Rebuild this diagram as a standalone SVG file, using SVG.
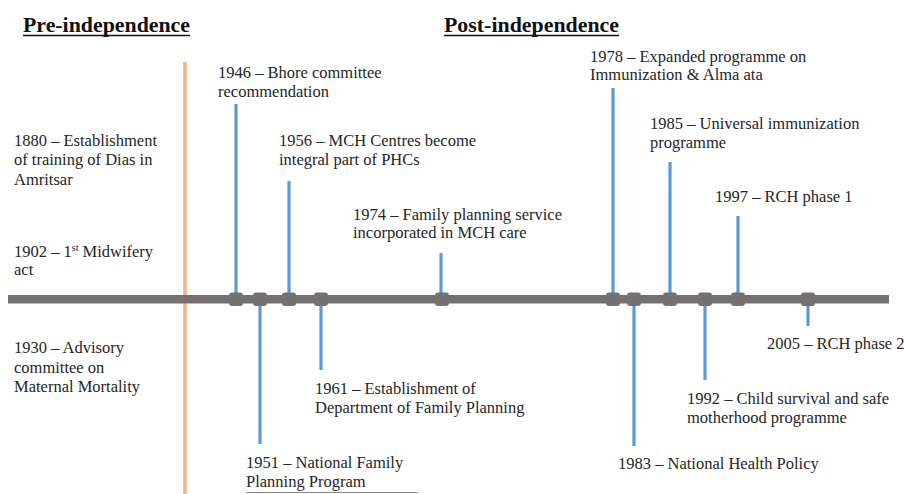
<svg xmlns="http://www.w3.org/2000/svg" width="904" height="494" viewBox="0 0 904 494">
<style>
text{font-family:"Liberation Serif","DejaVu Serif",serif;font-size:16.5px;fill:#262626}
.h{font-weight:bold;font-size:20px;fill:#111}
.stem{stroke:#5B9BD5;stroke-width:3.2;fill:none}
.mk{fill:#757171}
</style>
<rect width="904" height="494" fill="#fff"/>
<g id="headings">
<text class="h" x="23" y="32" textLength="167" lengthAdjust="spacingAndGlyphs">Pre-independence</text>
<line x1="23" y1="35.5" x2="190" y2="35.5" stroke="#111" stroke-width="1.6"/>
<text class="h" x="444" y="32" textLength="175" lengthAdjust="spacingAndGlyphs">Post-independence</text>
<line x1="444" y1="35.5" x2="619" y2="35.5" stroke="#111" stroke-width="1.6"/>
</g>
<g id="divider"><line x1="185" y1="62" x2="185" y2="494" stroke="#F4B183" stroke-width="3.5"/></g>
<g id="connectors">
<line class="stem" x1="236" y1="104" x2="236" y2="299"/>
<line class="stem" x1="260" y1="299" x2="260" y2="444"/>
<line class="stem" x1="289" y1="181" x2="289" y2="299"/>
<line class="stem" x1="321" y1="299" x2="321" y2="370"/>
<line class="stem" x1="441" y1="253" x2="441" y2="299"/>
<line class="stem" x1="613" y1="88" x2="613" y2="299"/>
<line class="stem" x1="634" y1="299" x2="634" y2="446"/>
<line class="stem" x1="670" y1="162" x2="670" y2="299"/>
<line class="stem" x1="705" y1="299" x2="705" y2="380"/>
<line class="stem" x1="738" y1="216" x2="738" y2="299"/>
<line class="stem" x1="808" y1="299" x2="808" y2="326"/>
</g>
<g id="timeline">
<rect x="8" y="295" width="881" height="8.5" fill="#757171"/>
<rect class="mk" x="229" y="292.5" width="14" height="13.5" rx="3"/>
<rect class="mk" x="253" y="292.5" width="14" height="13.5" rx="3"/>
<rect class="mk" x="282" y="292.5" width="14" height="13.5" rx="3"/>
<rect class="mk" x="314" y="292.5" width="14" height="13.5" rx="3"/>
<rect class="mk" x="435" y="292.5" width="14" height="13.5" rx="3"/>
<rect class="mk" x="606" y="292.5" width="14" height="13.5" rx="3"/>
<rect class="mk" x="627" y="292.5" width="14" height="13.5" rx="3"/>
<rect class="mk" x="663" y="292.5" width="14" height="13.5" rx="3"/>
<rect class="mk" x="698" y="292.5" width="14" height="13.5" rx="3"/>
<rect class="mk" x="731" y="292.5" width="14" height="13.5" rx="3"/>
<rect class="mk" x="801" y="292.5" width="14" height="13.5" rx="3"/>
</g>
<g id="e1880"><text x="14" y="146">1880 – Establishment</text><text x="14" y="165">of training of Dias in</text><text x="14" y="185">Amritsar</text></g>
<g id="e1902"><text x="14" y="257">1902 – 1<tspan font-size="10" dy="-6">st</tspan><tspan dy="6"> Midwifery</tspan></text><text x="14" y="275">act</text></g>
<g id="e1930"><text x="14" y="353">1930 – Advisory</text><text x="14" y="373">committee on</text><text x="14" y="392">Maternal Mortality</text></g>
<g id="e1946"><text x="218" y="78">1946 – Bhore committee</text><text x="218" y="97">recommendation</text></g>
<g id="e1951"><text x="246" y="468">1951 – National Family</text><text x="246" y="487">Planning Program</text><line x1="246" y1="492.5" x2="418" y2="492.5" stroke="#8c8c8c" stroke-width="1"/></g>
<g id="e1956"><text x="279" y="146">1956 – MCH Centres become</text><text x="279" y="165">integral part of PHCs</text></g>
<g id="e1961"><text x="315" y="394">1961 – Establishment of</text><text x="315" y="413">Department of Family Planning</text></g>
<g id="e1974"><text x="353" y="220">1974 – Family planning service</text><text x="353" y="238">incorporated in MCH care</text></g>
<g id="e1978"><text x="590" y="62">1978 – Expanded programme on</text><text x="590" y="80">Immunization &amp; Alma ata</text></g>
<g id="e1983"><text x="618" y="469">1983 – National Health Policy</text></g>
<g id="e1985"><text x="650" y="129">1985 – Universal immunization</text><text x="650" y="148">programme</text></g>
<g id="e1992"><text x="687" y="404">1992 – Child survival and safe</text><text x="687" y="423">motherhood programme</text></g>
<g id="e1997"><text x="715" y="202">1997 – RCH phase 1</text></g>
<g id="e2005"><text x="767" y="349">2005 – RCH phase 2</text></g>
</svg>
